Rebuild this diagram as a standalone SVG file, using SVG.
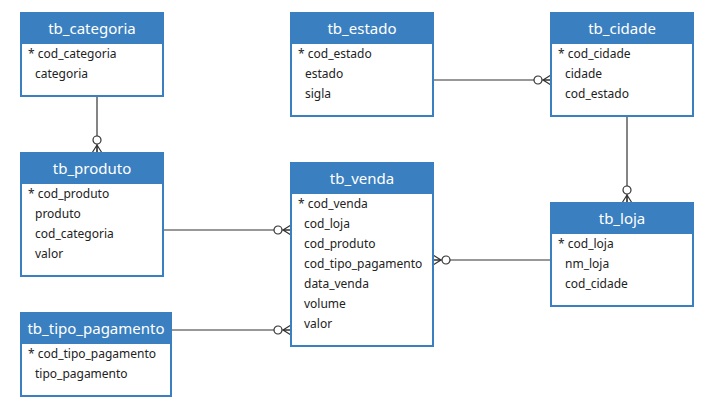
<svg xmlns="http://www.w3.org/2000/svg" width="716" height="410" viewBox="0 0 716 410">
<style>
.box{fill:#ffffff;stroke:#3a7fc0;stroke-width:2}
.hdr{fill:#3a7fc0}
.title{font-family:"Noto Sans","Liberation Sans",sans-serif;font-size:15px;fill:#ffffff;text-anchor:middle}
.fld{font-family:"Noto Sans","Liberation Sans",sans-serif;font-size:12px;fill:#222222}
.conn{fill:none;stroke:#333333;stroke-width:1.2;marker-end:url(#zm)}
</style>
<defs>
<marker id="zm" viewBox="-20 -8 22 16" refX="0" refY="0" markerWidth="22" markerHeight="16" markerUnits="userSpaceOnUse" orient="auto">
<circle cx="-13" cy="0" r="4" fill="#ffffff" stroke="#333333" stroke-width="1.2"/>
<path d="M-8,0 L0,-5 M-8,0 L0,0 M-8,0 L0,5" fill="none" stroke="#333333" stroke-width="1.2"/>
</marker>
</defs>
<g id="connectors">
<path class="conn" d="M97,96 L97,153"/>
<path class="conn" d="M433,80 L551,80"/>
<path class="conn" d="M627,116 L627,203"/>
<path class="conn" d="M163,230 L291,230"/>
<path class="conn" d="M171,330 L291,330"/>
<path class="conn" d="M551,260 L433,260"/>
</g>
<g id="tb_categoria">
<rect class="box" x="21" y="13" width="142" height="83"/>
<rect class="hdr" x="20" y="12" width="144" height="32"/>
<text class="title" x="92" y="34">tb_categoria</text>
<text class="fld" x="28" y="58">* cod_categoria</text>
<text class="fld" x="35" y="78">categoria</text>
</g>
<g id="tb_estado">
<rect class="box" x="291" y="13" width="142" height="103"/>
<rect class="hdr" x="290" y="12" width="144" height="32"/>
<text class="title" x="362" y="34">tb_estado</text>
<text class="fld" x="298" y="58">* cod_estado</text>
<text class="fld" x="305" y="78">estado</text>
<text class="fld" x="305" y="98">sigla</text>
</g>
<g id="tb_cidade">
<rect class="box" x="551" y="13" width="142" height="103"/>
<rect class="hdr" x="550" y="12" width="144" height="32"/>
<text class="title" x="622" y="34">tb_cidade</text>
<text class="fld" x="558" y="58">* cod_cidade</text>
<text class="fld" x="565" y="78">cidade</text>
<text class="fld" x="565" y="98">cod_estado</text>
</g>
<g id="tb_produto">
<rect class="box" x="21" y="153" width="142" height="123"/>
<rect class="hdr" x="20" y="152" width="144" height="32"/>
<text class="title" x="92" y="174">tb_produto</text>
<text class="fld" x="28" y="198">* cod_produto</text>
<text class="fld" x="35" y="218">produto</text>
<text class="fld" x="35" y="238">cod_categoria</text>
<text class="fld" x="35" y="258">valor</text>
</g>
<g id="tb_venda">
<rect class="box" x="291" y="163" width="142" height="183"/>
<rect class="hdr" x="290" y="162" width="144" height="32"/>
<text class="title" x="362" y="184">tb_venda</text>
<text class="fld" x="298" y="208">* cod_venda</text>
<text class="fld" x="304" y="228">cod_loja</text>
<text class="fld" x="304" y="248">cod_produto</text>
<text class="fld" x="304" y="268">cod_tipo_pagamento</text>
<text class="fld" x="304" y="288">data_venda</text>
<text class="fld" x="304" y="308">volume</text>
<text class="fld" x="304" y="328">valor</text>
</g>
<g id="tb_loja">
<rect class="box" x="551" y="203" width="142" height="103"/>
<rect class="hdr" x="550" y="202" width="144" height="32"/>
<text class="title" x="622" y="224">tb_loja</text>
<text class="fld" x="558" y="248">* cod_loja</text>
<text class="fld" x="565" y="268">nm_loja</text>
<text class="fld" x="565" y="288">cod_cidade</text>
</g>
<g id="tb_tipo_pagamento">
<rect class="box" x="21" y="313" width="150" height="83"/>
<rect class="hdr" x="20" y="312" width="152" height="32"/>
<text class="title" x="96" y="334">tb_tipo_pagamento</text>
<text class="fld" x="28" y="358">* cod_tipo_pagamento</text>
<text class="fld" x="35" y="378">tipo_pagamento</text>
</g>
</svg>
